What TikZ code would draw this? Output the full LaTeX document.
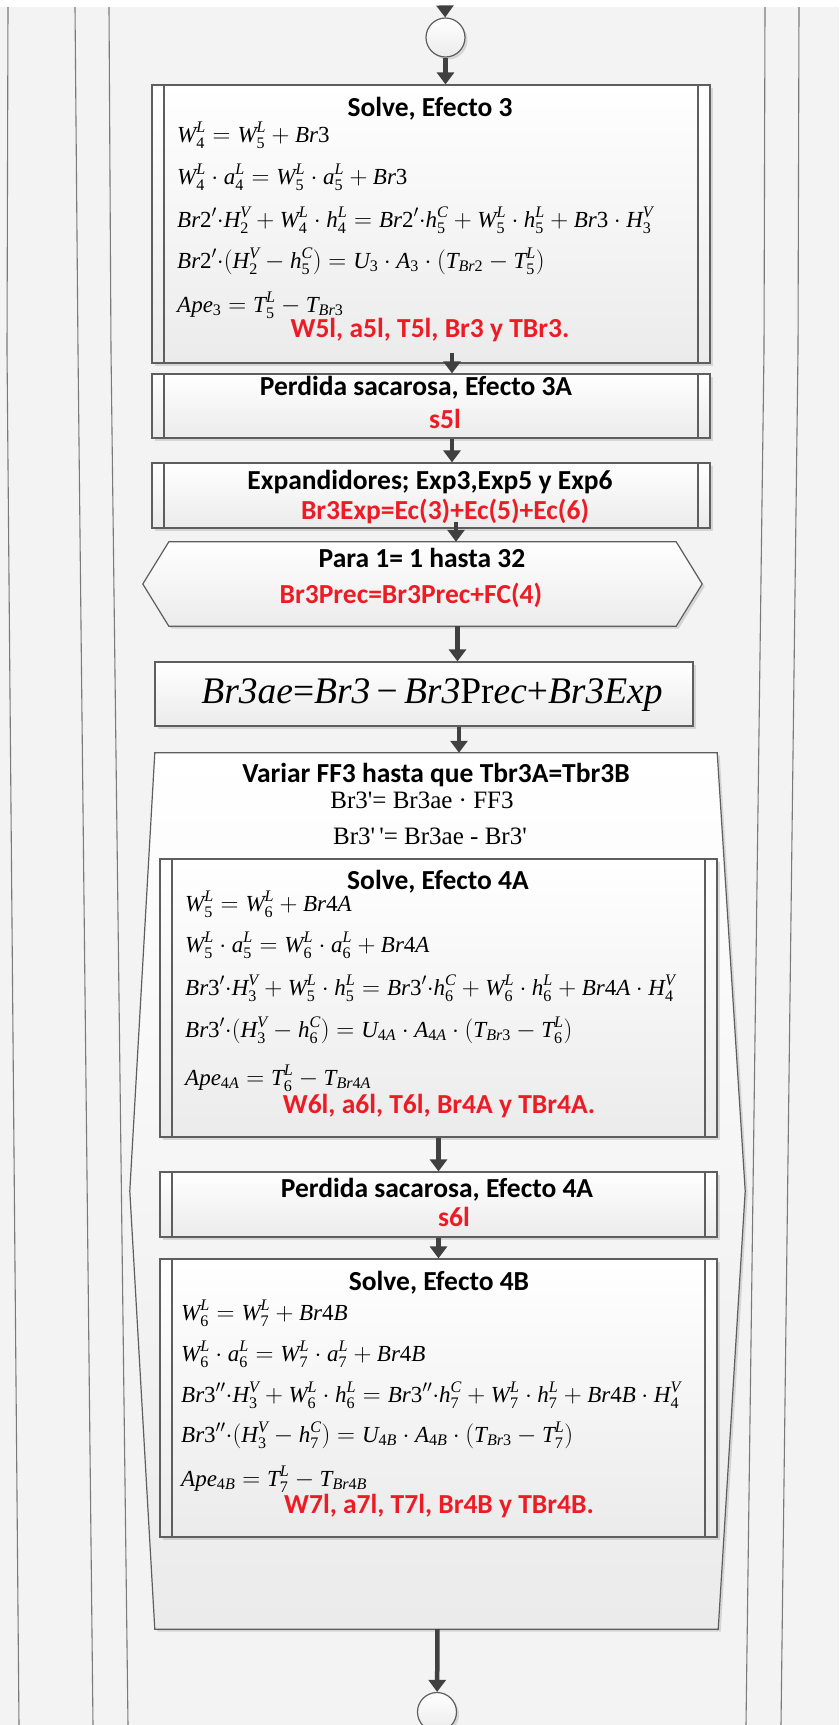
\documentclass[tikz,border=0pt]{standalone}
\usepackage{fontspec}
\newfontfamily\calibf{Carlito}
\newfontfamily\timesf[NFSSFamily=libserif]{Liberation Serif}
% Times-like letters and digits in math
\DeclareSymbolFont{tmsit}{TU}{libserif}{m}{it}
\DeclareSymbolFont{tmsup}{TU}{libserif}{m}{n}
\makeatletter
\AtBeginDocument{%
  \count@=`A \loop \Umathcode\count@=7 \symtmsit\count@ \ifnum\count@<`Z \advance\count@\@ne \repeat
  \count@=`a \loop \Umathcode\count@=7 \symtmsit\count@ \ifnum\count@<`z \advance\count@\@ne \repeat
  \count@=`0 \loop \Umathcode\count@=7 \symtmsup\count@ \ifnum\count@<`9 \advance\count@\@ne \repeat}
\makeatother
\usetikzlibrary{arrows.meta, positioning, calc, shadows}
\definecolor{canvas}{HTML}{F3F3F3}
\definecolor{edgeline}{HTML}{5E5E5E}
\definecolor{guideline}{HTML}{7A7A7A}
\definecolor{shadebot}{HTML}{EBEBEB}
\definecolor{flowline}{HTML}{404040}
\definecolor{resred}{HTML}{ED1C24}
\tikzset{
  shapefill/.style={top color=white, bottom color=shadebot, draw=edgeline, line width=1.2pt,
    drop shadow={shadow xshift=2.5pt, shadow yshift=-2.5pt, fill=black, opacity=0.12}},
  plainbox/.style={shapefill, rectangle, inner sep=0pt},
  subproc/.style={plainbox,
    path picture={\draw[edgeline, line width=1.2pt]
      ([xshift=12pt]path picture bounding box.north west) -- ([xshift=12pt]path picture bounding box.south west)
      ([xshift=-12pt]path picture bounding box.north east) -- ([xshift=-12pt]path picture bounding box.south east);}},
  outline/.style={rectangle, inner sep=0pt},
  junction/.style={circle, shapefill, minimum size=39pt, inner sep=0pt},
  ttl/.style={font=\calibf\bfseries\fontsize{27.5}{32}\selectfont, anchor=base, inner sep=0pt},
  res/.style={ttl, text=resred},
  eqn/.style={font=\fontsize{23}{28}\selectfont, anchor=base west, inner sep=0pt},
  rmtxt/.style={font=\timesf\fontsize{25}{29}\selectfont, anchor=base, inner sep=0pt},
  bigeq/.style={font=\timesf\itshape\fontsize{37.5}{44}\selectfont, anchor=base, inner sep=0pt},
  guide/.style={draw=guideline, line width=1.1pt},
  flow/.style={-{Triangle[length=12pt, width=17pt]}, line width=4.5pt, draw=flowline},
}
\newcommand{\sq}{\symbol{39}}

\begin{document}
\begin{tikzpicture}[x=1pt, y=-1pt]
\useasboundingbox (0,0) rectangle (839,1725);
\clip (0,0) rectangle (839,1725);

% canvas and the edges of the enclosing loops (cut by the page)
\fill[canvas] (0,7) rectangle (839,1725);
\draw[guide] (8,7) -- (7,350) -- (19,1725);
\draw[guide] (75,7) -- (78,350) -- (93,1725);
\draw[guide] (109,7) -- (111,350) -- (128,1725);
\draw[guide] (765,7) -- (764,350) -- (746,1725);
\draw[guide] (799,7) -- (798,350) -- (781,1725);

\coordinate (entry) at (445,7);
\node[junction] (jtop) at (445.5,37.5) {};

% Efecto 3
\node[subproc, minimum width=558pt, minimum height=278pt] (solve3) at (431,224) {};
\node[ttl] (solve3t) at (430,116) {Solve, Efecto 3};
\node[eqn] (s3e1) at (177,142) {$W_4^L = W_5^L + Br3$};
\node[eqn] (s3e2) at (177,184) {$W_4^L\cdot a_4^L = W_5^L\cdot a_5^L + Br3$};
\node[eqn] (s3e3) at (177,227) {$Br2'{\cdot}H_2^V + W_4^L\cdot h_4^L = Br2'{\cdot}h_5^C + W_5^L\cdot h_5^L + Br3\cdot H_3^V$};
\node[eqn] (s3e4) at (177,268) {$Br2'{\cdot}\bigl(H_2^V - h_5^C\bigr) = U_3\cdot A_3\cdot\bigl(T_{Br2} - T_5^L\bigr)$};
\node[eqn] (s3e5) at (177,312) {$Ape_3 = T_5^L - T_{Br3}$};
\node[res] (solve3r) at (430,337) {W5l, a5l, T5l, Br3 y TBr3.};

\node[subproc, minimum width=558pt, minimum height=64pt] (perd3A) at (431,406) {};
\node[ttl] (perd3At) at (416,395) {Perdida sacarosa, Efecto 3A};
\node[res] (perd3Ar) at (445,428) {s5l};

\node[subproc, minimum width=558pt, minimum height=65pt] (expand) at (431,495.5) {};
\node[ttl] (expandt) at (430,489) {Expandidores; Exp3,Exp5 y Exp6};
\node[res] (expandr) at (445,519) {Br3Exp=Ec(3)+Ec(5)+Ec(6)};

% loop 1..32
\node[outline, minimum width=559pt, minimum height=84pt] (para) at (422.5,584) {};
\draw[shapefill] ([xshift=26pt]para.north west) -- ([xshift=-26pt]para.north east) -- (para.east)
  -- ([xshift=-26pt]para.south east) -- ([xshift=26pt]para.south west) -- (para.west) -- cycle;
\node[ttl] (parat) at (422,567) {Para 1= 1 hasta 32};
\node[res] (parar) at (411,603) {Br3Prec=Br3Prec+FC(4)};

\node[plainbox, minimum width=538pt, minimum height=64pt] (br3ae) at (424,694) {};
\node[bigeq] (br3aet) at (432,703) {Br3ae{\upshape=}Br3{\upshape\,−\,}Br3{\upshape Pr}ec{\upshape+}Br3Exp};

% loop on FF3
\node[outline, minimum width=615pt, minimum height=876pt] (vary) at (437.5,1191) {};
\draw[shapefill] ([xshift=25pt]vary.north west) -- ([xshift=-28pt]vary.north east) -- (vary.east)
  -- ([xshift=-27pt]vary.south east) -- ([xshift=25pt]vary.south west) -- (vary.west) -- cycle;
\node[ttl] (varyt) at (436,782) {Variar FF3 hasta que Tbr3A=Tbr3B};
\node[rmtxt] (varye1) at (422,808) {Br3\sq= Br3ae · FF3};
\node[rmtxt] (varye2) at (430,844) {Br3\sq\,\sq= Br3ae - Br3\sq};

% Efecto 4A
\node[subproc, minimum width=557pt, minimum height=278pt] (solve4A) at (438.5,998) {};
\node[ttl] (solve4At) at (438,889) {Solve, Efecto 4A};
\node[eqn] (s4e1) at (185,911) {$W_5^L = W_6^L + Br4A$};
\node[eqn] (s4e2) at (185,952) {$W_5^L\cdot a_5^L = W_6^L\cdot a_6^L + Br4A$};
\node[eqn] (s4e3) at (185,995) {$Br3'{\cdot}H_3^V + W_5^L\cdot h_5^L = Br3'{\cdot}h_6^C + W_6^L\cdot h_6^L + Br4A\cdot H_4^V$};
\node[eqn] (s4e4) at (185,1037) {$Br3'{\cdot}\bigl(H_3^V - h_6^C\bigr) = U_{4A}\cdot A_{4A}\cdot\bigl(T_{Br3} - T_6^L\bigr)$};
\node[eqn] (s4e5) at (185,1085) {$Ape_{4A} = T_6^L - T_{Br4A}$};
\node[res] (solve4Ar) at (439,1113) {W6l, a6l, T6l, Br4A y TBr4A.};

\node[subproc, minimum width=557pt, minimum height=65pt] (perd4A) at (438.5,1204.5) {};
\node[ttl] (perd4At) at (437,1197) {Perdida sacarosa, Efecto 4A};
\node[res] (perd4Ar) at (454,1226) {s6l};

% Efecto 4B
\node[subproc, minimum width=557pt, minimum height=278pt] (solve4B) at (438.5,1398) {};
\node[ttl] (solve4Bt) at (439,1290) {Solve, Efecto 4B};
\node[eqn] (s5e1) at (181,1320) {$W_6^L = W_7^L + Br4B$};
\node[eqn] (s5e2) at (181,1361) {$W_6^L\cdot a_6^L = W_7^L\cdot a_7^L + Br4B$};
\node[eqn] (s5e3) at (181,1402) {$Br3''{\cdot}H_3^V + W_6^L\cdot h_6^L = Br3''{\cdot}h_7^C + W_7^L\cdot h_7^L + Br4B\cdot H_4^V$};
\node[eqn] (s5e4) at (181,1442) {$Br3''{\cdot}\bigl(H_3^V - h_7^C\bigr) = U_{4B}\cdot A_{4B}\cdot\bigl(T_{Br3} - T_7^L\bigr)$};
\node[eqn] (s5e5) at (181,1486) {$Ape_{4B} = T_7^L - T_{Br4B}$};
\node[res] (solve4Br) at (439,1513) {W7l, a7l, T7l, Br4B y TBr4B.};

\node[junction] (jbot) at (437,1712) {};

% flow
\draw[flow] (entry) -- (jtop);
\draw[flow] (jtop.south) -- (jtop.south |- solve3.north);
\draw[flow] ([xshift=21pt, yshift=11pt]solve3.south) -- ([xshift=21pt]perd3A.north);
\draw[flow] ([xshift=21pt]perd3A.south) -- ([xshift=21pt]expand.north);
\draw[flow] ([xshift=25pt, yshift=7pt]expand.south) -- ([xshift=25pt]expand.south |- para.north);
\draw[flow] ([xshift=35pt]para.south) -- ([xshift=35pt]para.south |- br3ae.north);
\draw[flow] ([xshift=35pt]br3ae.south) -- ([xshift=35pt]br3ae.south |- vary.north);
\draw[flow] (solve4A.south) -- (perd4A.north);
\draw[flow] (perd4A.south) -- (solve4B.north);
\draw[flow] (vary.south) -- (jbot);

\end{tikzpicture}
\end{document}
